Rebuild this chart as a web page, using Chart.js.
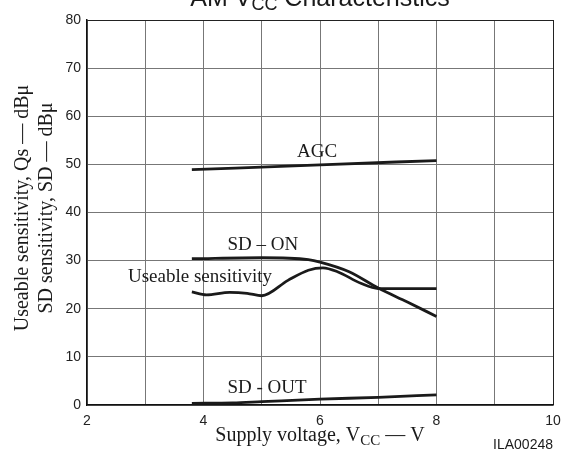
<!DOCTYPE html>
<html>
<head>
<meta charset="utf-8">
<script src="https://cdn.jsdelivr.net/npm/chart.js@4"></script>
<style>
  html, body { margin: 0; padding: 0; background: #fff; }
  canvas { display: block; }
</style>
</head>
<body>
<canvas id="chart" width="564" height="452"></canvas>
<script>
// supply voltage (V) and sensitivity (dBu)
const agcV = [3.8, 6, 8];
const agcDb = [48.9, 49.9, 50.8];

const sdOnV = [3.8, 5, 5.8, 6, 6.5, 7, 7.5, 8];
const sdOnDb = [30.4, 30.6, 30.2, 29.7, 27.7, 24.3, 21.4, 18.4];

const useV = [3.8, 4.05, 4.45, 4.75, 5.0, 5.45, 5.8, 6.05, 6.3, 6.7, 7.0, 7.3, 8];
const useDb = [23.5, 22.9, 23.4, 23.2, 22.7, 25.9, 28.0, 28.5, 27.7, 25.3, 24.2, 24.2, 24.2];

const sdOutV = [3.8, 4.5, 5, 6, 7, 8];
const sdOutDb = [0.35, 0.45, 0.7, 1.2, 1.6, 2.1];

const xTicks = [2, 4, 6, 8, 10];

function pts(xs, ys) {
    return xs.map(function (x, i) { return { x: x, y: ys[i] }; });
}

function curve(xs, ys) {
    return {
        data: pts(xs, ys),
        borderColor: '#1a1a1a',
        borderWidth: 2.8,
        pointRadius: 0,
        cubicInterpolationMode: 'monotone',
        fill: false
    };
}

const serif = '"Liberation Serif", "Times New Roman", serif';
const sans = '"Liberation Sans", Arial, sans-serif';

const textPlugin = {
    id: 'texts',
    afterDraw: function (chart) {
        const c = chart.ctx;
        const xs = chart.scales.x, ys = chart.scales.y;
        const area = chart.chartArea;
        c.save();
        c.fillStyle = '#1a1a1a';

        // title with subscript, partly cut off at the top
        c.font = '25px ' + sans;
        const t1 = 'AM V', t2 = 'CC', t3 = ' Characteristics';
        const w1 = c.measureText(t1).width, w3 = c.measureText(t3).width;
        c.font = '18px ' + sans;
        const w2 = c.measureText(t2).width;
        let tx = (area.left + area.right) / 2 - (w1 + w2 + w3) / 2;
        c.textBaseline = 'alphabetic';
        c.textAlign = 'left';
        c.font = '25px ' + sans;
        c.fillText(t1, tx, 6);
        c.font = '18px ' + sans;
        c.fillText(t2, tx + w1, 10);
        c.font = '25px ' + sans;
        c.fillText(t3, tx + w1 + w2, 6);

        // curve labels
        c.font = '19px ' + serif;
        c.textAlign = 'center';
        c.textBaseline = 'middle';
        [['AGC', 5.95, 52.6], ['SD \u2013 ON', 5.02, 33.3],
         ['Useable sensitivity', 3.94, 26.6], ['SD - OUT', 5.09, 3.5]].forEach(function (l) {
            c.fillText(l[0], xs.getPixelForValue(l[1]), ys.getPixelForValue(l[2]));
        });

        // x axis title
        c.font = '20px ' + serif;
        const a1 = 'Supply voltage, V', a2 = 'CC', a3 = ' \u2014 V';
        const b1 = c.measureText(a1).width, b3 = c.measureText(a3).width;
        c.font = '15px ' + serif;
        const b2 = c.measureText(a2).width;
        let ax = (area.left + area.right) / 2 - (b1 + b2 + b3) / 2;
        c.textAlign = 'left';
        c.textBaseline = 'alphabetic';
        c.font = '20px ' + serif;
        c.fillText(a1, ax, 441);
        c.font = '15px ' + serif;
        c.fillText(a2, ax + b1, 445);
        c.font = '20px ' + serif;
        c.fillText(a3, ax + b1 + b2, 441);

        // y axis title, two lines
        c.font = '20px ' + serif;
        c.textAlign = 'center';
        c.translate(0, 208);
        c.rotate(-Math.PI / 2);
        c.fillText('Useable sensitivity, Qs \u2014 dB\u03bc', 0, 28);
        c.fillText('SD sensitivity, SD \u2014 dB\u03bc', 0, 52);
        c.restore();

        c.save();
        c.font = '14px ' + sans;
        c.fillStyle = '#1a1a1a';
        c.textAlign = 'right';
        c.textBaseline = 'alphabetic';
        c.fillText('ILA00248', 553, 449);
        c.restore();
    }
};

new Chart(document.getElementById('chart'), {
    type: 'line',
    data: {
        datasets: [
            curve(agcV, agcDb),
            curve(sdOnV, sdOnDb),
            curve(useV, useDb),
            curve(sdOutV, sdOutDb)
        ]
    },
    options: {
        responsive: false,
        animation: false,
        layout: { padding: { top: 20, right: 11, left: 0, bottom: 0 } },
        plugins: {
            legend: { display: false },
            title: { display: false },
            tooltip: { enabled: false }
        },
        scales: {
            x: {
                type: 'linear',
                min: 2,
                max: 10,
                afterFit: function (s) {
                    s.height = 47;
                    s.paddingLeft = 0;
                    s.paddingRight = 0;
                },
                ticks: {
                    stepSize: 1,
                    autoSkip: false,
                    maxRotation: 0,
                    padding: 8,
                    color: '#222',
                    font: { family: sans, size: 14 },
                    callback: function (v) { return xTicks.indexOf(v) >= 0 ? String(v) : ''; }
                },
                grid: {
                    drawTicks: false,
                    color: function (ctx) { return ctx.tick && ctx.tick.value === 10 ? '#222' : '#777'; },
                    lineWidth: 1
                },
                border: { display: true, color: '#111', width: 1.5 }
            },
            y: {
                min: 0,
                max: 80,
                afterFit: function (s) { s.width = 87; },
                ticks: {
                    stepSize: 10,
                    padding: 6,
                    color: '#222',
                    font: { family: sans, size: 14 }
                },
                grid: {
                    drawTicks: false,
                    color: function (ctx) { return ctx.tick && ctx.tick.value === 80 ? '#222' : '#777'; },
                    lineWidth: 1
                },
                border: { display: true, color: '#111', width: 1.5 }
            }
        }
    },
    plugins: [textPlugin]
});
</script>
</body>
</html>
